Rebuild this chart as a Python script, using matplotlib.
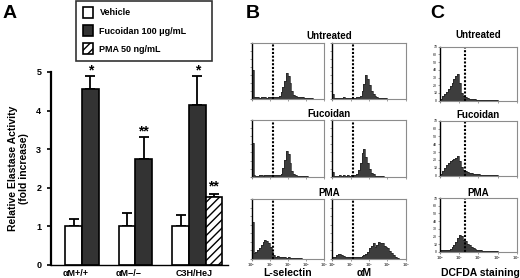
import numpy as np
import matplotlib
matplotlib.use("Agg")
import matplotlib.pyplot as plt
from matplotlib.patches import Patch

plt.rcParams['font.family'] = ['Liberation Sans', 'DejaVu Sans']
plt.rcParams['font.weight'] = 'bold'
plt.rcParams['hatch.linewidth'] = 1.0

# ---------------- Panel A data ----------------
groups = ["αM+/+", "αM−/−", "C3H/HeJ"]
vehicle = [1.0, 1.0, 1.0]
vehicle_err = [0.20, 0.34, 0.30]
fucoidan = [4.56, 2.74, 4.15]
fucoidan_err = [0.33, 0.57, 0.75]
pma = [1.75]
pma_err = [0.09]
fucoidan_sig = ["*", "**", "*"]
pma_sig = ["**"]
legend_labels = ["Vehicle", "Fucoidan 100 μg/mL", "PMA 50 ng/mL"]
yticks_a = [0, 1, 2, 3, 4, 5]

# ---------------- Histogram data (percent of axis height, 40 bins over 10^0..10^4) ----
B_rows = ["Untreated", "Fucoidan", "PMA"]
B_cols = ["L-selectin", "αM"]
b_gate = 14.5
c_gate = 21.0

b_untreated_lsel = [52, 3, 3, 3, 2, 3, 3, 3, 2, 3, 3, 3, 3, 3, 4, 6, 12, 22, 32, 47,
                    40, 28, 14, 7, 5, 4, 3, 3, 3, 2, 2, 2, 1, 1, 0, 0, 0, 0, 0, 0]
b_untreated_am = [8, 2, 2, 2, 2, 2, 3, 2, 2, 2, 2, 2, 2, 3, 4, 6, 14, 27, 42, 36,
                  24, 14, 8, 5, 3, 2, 2, 1, 1, 1, 0, 0, 0, 0, 0, 0, 0, 0, 0, 0]
b_fucoidan_lsel = [60, 3, 2, 2, 3, 3, 2, 3, 3, 3, 3, 2, 3, 3, 3, 3, 5, 15, 30, 45,
                   40, 25, 10, 5, 3, 2, 2, 2, 1, 1, 1, 0, 0, 0, 0, 0, 0, 0, 0, 0]
b_fucoidan_am = [8, 2, 2, 2, 3, 2, 3, 2, 3, 2, 3, 3, 3, 4, 12, 25, 42, 48, 35, 24,
                 14, 7, 4, 2, 2, 1, 1, 1, 0, 0, 0, 0, 0, 0, 0, 0, 0, 0, 0, 0]
b_pma_lsel = [62, 10, 12, 15, 18, 24, 28, 31, 30, 26, 20, 12, 6, 4, 5, 3, 4, 3, 3, 2,
              3, 2, 2, 1, 2, 1, 1, 1, 0, 0, 0, 0, 0, 0, 0, 0, 0, 0, 0, 0]
b_pma_am = [3, 4, 6, 8, 8, 7, 5, 4, 3, 3, 3, 3, 3, 3, 4, 4, 5, 6, 8, 12,
            18, 22, 26, 20, 24, 28, 26, 27, 22, 20, 18, 14, 10, 6, 3, 1, 0, 0, 0, 0]

C_rows = ["Untreated", "Fucoidan", "PMA"]
c_untreated = [3, 8, 12, 16, 22, 28, 33, 40, 45, 50, 32, 15, 9, 6, 5, 4, 3, 3, 3, 2,
               2, 2, 2, 2, 2, 1, 1, 1, 1, 1, 0, 0, 0, 0, 0, 0, 0, 0, 0, 0]
c_fucoidan = [3, 8, 14, 20, 24, 27, 28, 30, 33, 35, 26, 16, 11, 8, 7, 5, 5, 4, 3, 3,
              3, 2, 2, 2, 2, 1, 1, 1, 1, 1, 0, 0, 0, 0, 0, 0, 0, 0, 0, 0]
c_pma = [3, 3, 3, 4, 4, 5, 8, 13, 18, 25, 32, 30, 22, 20, 15, 12, 9, 7, 5, 4,
         3, 3, 2, 2, 2, 2, 1, 1, 1, 1, 0, 0, 0, 0, 0, 0, 0, 0, 0, 0]
c_yticklabels = ["0", "10", "20", "30", "40", "50", "60", "70"]
x_decades = ["$10^0$", "$10^1$", "$10^2$", "$10^3$", "$10^4$"]

B_data = [[b_untreated_lsel, b_untreated_am],
          [b_fucoidan_lsel, b_fucoidan_am],
          [b_pma_lsel, b_pma_am]]
C_data = [c_untreated, c_fucoidan, c_pma]

W, H = 520, 278
fig = plt.figure(figsize=(W / 100, H / 100), dpi=100)


def px_axes(x0, y0, x1, y1):
    return fig.add_axes([x0 / W, 1 - y1 / H, (x1 - x0) / W, (y1 - y0) / H])


def fig_text(x, y, s, **kw):
    fig.text(x / W, 1 - y / H, s, **kw)


# ---------------- Panel A ----------------
ax = px_axes(51, 72, 228, 265)
n = len(groups)
xg = np.arange(n)
bw = 0.31
ax.bar(xg - bw / 2, vehicle, bw, color='white', edgecolor='black', linewidth=1.2, zorder=2)
ax.bar(xg + bw / 2, fucoidan, bw, color='#333333', edgecolor='black', linewidth=1.2, zorder=2)
xp = xg[-1:] + 1.5 * bw
ax.bar(xp, pma, bw, color='white', edgecolor='black', hatch='////', linewidth=1.2, zorder=2)
ax.errorbar(xg - bw / 2, vehicle, yerr=[np.zeros(n), vehicle_err], fmt='none',
            ecolor='black', elinewidth=1.3, capsize=3.5, capthick=1.3, zorder=1)
ax.errorbar(xg + bw / 2, fucoidan, yerr=[np.zeros(n), fucoidan_err], fmt='none',
            ecolor='black', elinewidth=1.3, capsize=3.5, capthick=1.3, zorder=1)
ax.errorbar(xp, pma, yerr=[np.zeros(1), pma_err], fmt='none',
            ecolor='black', elinewidth=1.3, capsize=3.5, capthick=1.3, zorder=1)
for x, v, e, s in zip(xg + bw / 2, fucoidan, fucoidan_err, fucoidan_sig):
    ax.text(x, v + e + 0.14, s, ha='center', va='center', fontsize=10, clip_on=False)
for x, v, e, s in zip(xp, pma, pma_err, pma_sig):
    ax.text(x, v + e + 0.2, s, ha='center', va='center', fontsize=10, clip_on=False)

ax.set_xlim(-0.579, 2.729)
ax.set_ylim(0, 5)
ax.set_yticks(yticks_a)
ax.set_yticklabels([str(t) for t in yticks_a], fontsize=6.5, fontweight='bold')
ax.set_xticks(xg + np.array([-0.11, -0.12, 0.09]))
ax.set_xticklabels(groups, fontsize=6.5, fontweight='bold')
ax.tick_params(axis='x', length=0, pad=3)
ax.tick_params(axis='y', length=3, width=1.2, direction='out', pad=4)
for s in ['top', 'right']:
    ax.spines[s].set_visible(False)
ax.spines['left'].set_linewidth(1.6)
ax.spines['bottom'].set_linewidth(1.0)
ax.set_ylabel("Relative Elastase Activity\n(fold increase)", fontsize=7.5,
              fontweight='bold', labelpad=5, linespacing=1.2)

handles = [Patch(facecolor='white', edgecolor='black', linewidth=1.2),
           Patch(facecolor='#333333', edgecolor='black', linewidth=1.2),
           Patch(facecolor='white', edgecolor='black', hatch='////', linewidth=1.2)]
leg = fig.legend(handles, legend_labels, loc='upper left',
                 bbox_to_anchor=(76 / W, 1 - 0.5 / H, 136 / W, 0.0), mode='expand',
                 fontsize=6.5, frameon=True, fancybox=False, edgecolor='black',
                 handlelength=1.15, handleheight=1.4, handletextpad=0.7,
                 labelspacing=0.85, borderpad=0.75, borderaxespad=0)
leg.get_frame().set_linewidth(1.2)
for t in leg.get_texts():
    t.set_fontweight('bold')

# ---------------- Histogram helper ----------------
edges = np.logspace(0, 4, len(b_untreated_lsel) + 1)


def hist_axes(a, counts, gate, xlabels=False, ylabels=None):
    a.stairs(counts, edges, fill=True, color='#3d3d3d', linewidth=0)
    a.stairs(counts, edges, color='#222222', linewidth=0.5)
    a.axvline(gate, color='black', linestyle=(0, (1.0, 0.8)), linewidth=1.5)
    a.set_xscale('log')
    a.set_xlim(1, 1e4)
    a.set_ylim(0, 100)
    for s in ['top', 'right', 'bottom']:
        a.spines[s].set_color('#8c8c8c')
        a.spines[s].set_linewidth(0.8)
    a.spines['left'].set_color('black')
    a.spines['left'].set_linewidth(1.0)
    a.set_xticks([1, 10, 100, 1000, 10000])
    a.xaxis.set_minor_locator(matplotlib.ticker.NullLocator())
    a.set_yticks(np.linspace(0, 100, 8))
    a.tick_params(axis='both', length=1.5, width=0.4, pad=0.5, colors='#555555')
    if xlabels:
        a.set_xticklabels(x_decades, fontsize=2.5, color='#555555')
    else:
        a.set_xticklabels([])
    if ylabels:
        a.set_yticklabels(ylabels, fontsize=2.5, color='#555555')
    else:
        a.set_yticklabels([])


# ---------------- Panel B ----------------
b_cols_x = [(251.7, 324), (332, 406)]
b_rows_y = [(42.7, 99), (120, 176.7), (199, 259)]
b_title_y = [36, 114, 193]
for r, (y0, y1) in enumerate(b_rows_y):
    for c, (x0, x1) in enumerate(b_cols_x):
        a = px_axes(x0, y0, x1, y1)
        hist_axes(a, B_data[r][c], b_gate, xlabels=(r == 2))
    fig_text(329, b_title_y[r], B_rows[r], ha='center', va='center',
             fontsize=7, fontweight='bold')
fig_text(288, 273.5, B_cols[0], ha='center', va='center', fontsize=7.5, fontweight='bold')
fig_text(364, 273.5, B_cols[1], ha='center', va='center', fontsize=7.5, fontweight='bold')

# ---------------- Panel C ----------------
c_rows_y = [(46.7, 100.7), (120.7, 175.7), (198, 251.7)]
c_title_y = [35, 115, 193]
for r, (y0, y1) in enumerate(c_rows_y):
    a = px_axes(440, y0, 516.7, y1)
    hist_axes(a, C_data[r], c_gate, xlabels=(r == 2), ylabels=c_yticklabels)
    fig_text(478, c_title_y[r], C_rows[r], ha='center', va='center',
             fontsize=7, fontweight='bold')
fig_text(480, 272.5, "DCFDA staining", ha='center', va='center', fontsize=7.5,
         fontweight='bold')

# ---------------- Panel letters ----------------
fig_text(3, 13, "A", ha='left', va='center', fontsize=14, fontweight='bold')
fig_text(246, 13, "B", ha='left', va='center', fontsize=14, fontweight='bold')
fig_text(430, 13, "C", ha='left', va='center', fontsize=14, fontweight='bold')

fig.savefig("out.png", dpi=100)
